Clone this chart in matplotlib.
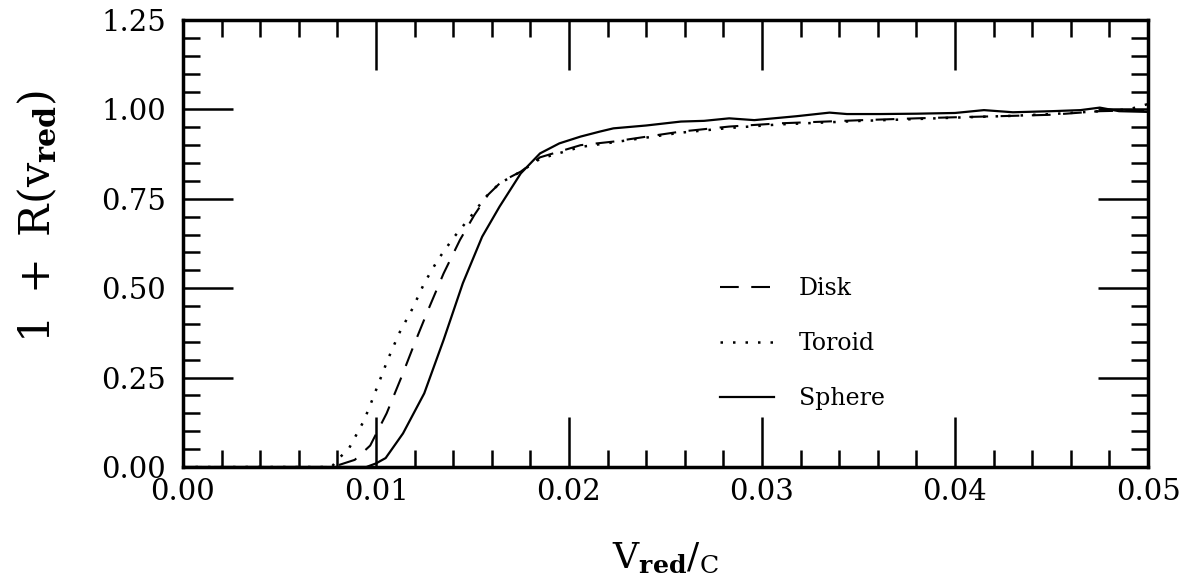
import numpy as np
import matplotlib
matplotlib.use("Agg")
import matplotlib.pyplot as plt
from matplotlib.ticker import MultipleLocator

plt.rcParams["font.family"] = "DejaVu Serif"
plt.rcParams["mathtext.fontset"] = "dejavuserif"

# Sphere (solid)
x_sphere = [0.0, 0.0095, 0.0100, 0.0105, 0.0114, 0.0125, 0.0135, 0.0145, 0.0155,
            0.0164, 0.0175, 0.0185, 0.0195, 0.0206, 0.0216, 0.0223, 0.0240, 0.0258,
            0.0270, 0.0283, 0.0296, 0.0318, 0.0335, 0.0344, 0.0361, 0.0380, 0.0400,
            0.0415, 0.0430, 0.0450, 0.0465, 0.0475, 0.0485, 0.0500]
y_sphere = [0.0, 0.0, 0.010, 0.025, 0.094, 0.206, 0.355, 0.514, 0.644,
            0.728, 0.821, 0.877, 0.905, 0.924, 0.938, 0.947, 0.955, 0.966,
            0.968, 0.975, 0.970, 0.981, 0.991, 0.987, 0.987, 0.988, 0.990,
            0.998, 0.992, 0.995, 0.998, 1.005, 0.995, 0.993]

# Disk (dashed)
x_disk = [0.0, 0.0078, 0.0081, 0.0089, 0.0097, 0.01055, 0.01133, 0.0120, 0.0127,
          0.0135, 0.01435, 0.0151, 0.0158, 0.0165, 0.0175, 0.0185, 0.0206, 0.0223,
          0.0258, 0.0283, 0.0309, 0.0352, 0.0380, 0.0400, 0.0430, 0.0450, 0.0475,
          0.0500]
y_disk = [0.0, 0.0, 0.006, 0.020, 0.060, 0.150, 0.253, 0.346, 0.439,
          0.541, 0.635, 0.705, 0.761, 0.798, 0.826, 0.866, 0.900, 0.910,
          0.938, 0.952, 0.961, 0.970, 0.975, 0.978, 0.982, 0.985, 0.995,
          0.998]

# Toroid (dotted)
x_toroid = [0.0, 0.0077, 0.0080, 0.0086, 0.0093, 0.0096, 0.0101, 0.0106, 0.0112,
            0.0119, 0.0125, 0.0132, 0.0140, 0.0149, 0.0157, 0.0164, 0.0175, 0.0185,
            0.0206, 0.0223, 0.0258, 0.0283, 0.0309, 0.0352, 0.0380, 0.0400, 0.0430,
            0.0450, 0.0475, 0.0490, 0.0500]
y_toroid = [0.0, 0.0, 0.020, 0.052, 0.122, 0.159, 0.229, 0.299, 0.374,
            0.444, 0.514, 0.579, 0.640, 0.700, 0.756, 0.793, 0.826, 0.862,
            0.895, 0.908, 0.935, 0.948, 0.958, 0.968, 0.973, 0.977, 0.982,
            0.987, 0.995, 1.000, 1.015]

fig = plt.figure(figsize=(11.94, 5.83), dpi=100)
ax = fig.add_axes([183 / 1194, 1 - 467 / 583, 965 / 1194, 447 / 583])

ax.plot(x_disk, y_disk, color="black", lw=1.5, dashes=(9, 6), label="Disk")
ax.plot(x_toroid, y_toroid, color="black", lw=1.8, dashes=(1.0, 4), label="Toroid")
ax.plot(x_sphere, y_sphere, color="black", lw=1.6, label="Sphere")

ax.set_xlim(0, 0.05)
ax.set_ylim(0, 1.25)
ax.xaxis.set_major_locator(MultipleLocator(0.01))
ax.xaxis.set_minor_locator(MultipleLocator(0.002))
ax.yaxis.set_major_locator(MultipleLocator(0.25))
ax.yaxis.set_minor_locator(MultipleLocator(0.05))
ax.xaxis.set_major_formatter(plt.FormatStrFormatter("%.2f"))
ax.yaxis.set_major_formatter(plt.FormatStrFormatter("%.2f"))

ax.tick_params(which="both", direction="in", top=True, right=True, width=1.8,
               labelsize=21)
ax.tick_params(axis="x", pad=8)
ax.tick_params(axis="y", pad=12)
ax.tick_params(which="major", length=36)
ax.tick_params(which="minor", length=12)
for s in ax.spines.values():
    s.set_linewidth(2.5)

ax.set_xlabel(r"$\mathrm{V}_{\mathbf{red}}/_{\mathrm{C}}$", fontsize=26)
ax.xaxis.set_label_coords(0.5, -0.165)
ax.set_ylabel(r"$1\ +\ \mathrm{R}\left(\mathrm{v}_{\mathbf{red}}\right)$", fontsize=31)
ax.yaxis.set_label_coords(-0.128, 0.56)

ax.legend(loc="upper left", bbox_to_anchor=(0.556, 0.425), frameon=False, fontsize=17,
          borderpad=0, borderaxespad=0, handlelength=2.3, labelspacing=1.35,
          handletextpad=1.05)

fig.savefig("out.png", dpi=100)
